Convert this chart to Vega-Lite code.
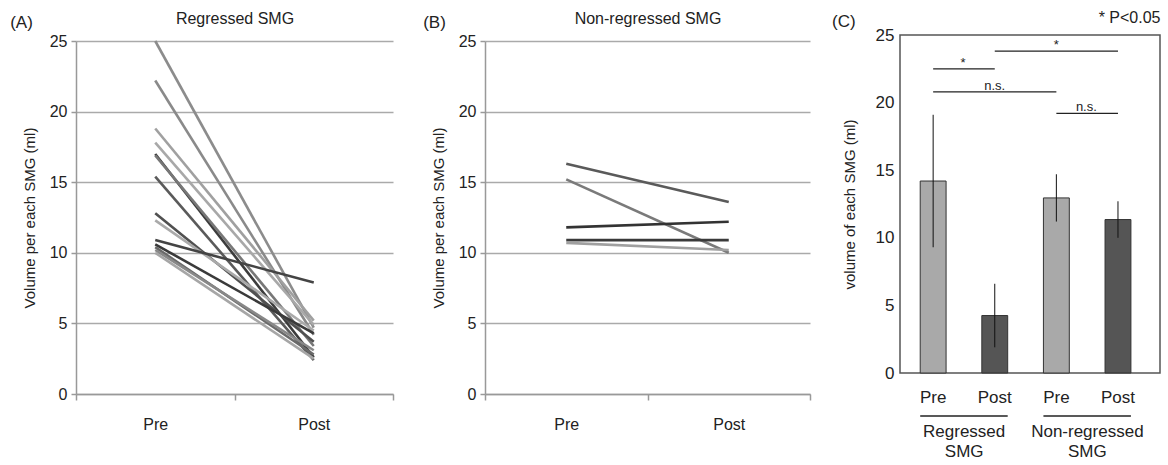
{
  "$schema": "https://vega.github.io/schema/vega-lite/v6.json",
  "background": "white",
  "padding": {"left": 10, "top": 8, "right": 4, "bottom": 0},
  "config": {
    "font": "Liberation Sans",
    "view": {"stroke": null},
    "title": {"fontWeight": "normal", "fontSize": 17, "color": "#222"},
    "axis": {"labelColor": "#222", "titleColor": "#222", "labelFont": "Liberation Sans", "titleFont": "Liberation Sans"}
  },
  "datasets": {
    "A": [
      {"id": "a01", "time": "Pre", "vol": 25.0}, {"id": "a01", "time": "Post", "vol": 4.7},
      {"id": "a02", "time": "Pre", "vol": 22.2}, {"id": "a02", "time": "Post", "vol": 4.2},
      {"id": "a03", "time": "Pre", "vol": 18.8}, {"id": "a03", "time": "Post", "vol": 5.2},
      {"id": "a04", "time": "Pre", "vol": 17.8}, {"id": "a04", "time": "Post", "vol": 4.9},
      {"id": "a05", "time": "Pre", "vol": 17.0}, {"id": "a05", "time": "Post", "vol": 2.6},
      {"id": "a06", "time": "Pre", "vol": 16.9}, {"id": "a06", "time": "Post", "vol": 3.4},
      {"id": "a07", "time": "Pre", "vol": 15.4}, {"id": "a07", "time": "Post", "vol": 2.4},
      {"id": "a08", "time": "Pre", "vol": 12.8}, {"id": "a08", "time": "Post", "vol": 3.7},
      {"id": "a09", "time": "Pre", "vol": 12.3}, {"id": "a09", "time": "Post", "vol": 4.5},
      {"id": "a10", "time": "Pre", "vol": 10.9}, {"id": "a10", "time": "Post", "vol": 7.9},
      {"id": "a11", "time": "Pre", "vol": 10.6}, {"id": "a11", "time": "Post", "vol": 4.3},
      {"id": "a12", "time": "Pre", "vol": 10.4}, {"id": "a12", "time": "Post", "vol": 2.8},
      {"id": "a13", "time": "Pre", "vol": 10.2}, {"id": "a13", "time": "Post", "vol": 3.1},
      {"id": "a14", "time": "Pre", "vol": 10.0}, {"id": "a14", "time": "Post", "vol": 2.5}
    ],
    "B": [
      {"id": "b1", "time": "Pre", "vol": 16.3}, {"id": "b1", "time": "Post", "vol": 13.6},
      {"id": "b2", "time": "Pre", "vol": 15.2}, {"id": "b2", "time": "Post", "vol": 10.0},
      {"id": "b3", "time": "Pre", "vol": 11.8}, {"id": "b3", "time": "Post", "vol": 12.2},
      {"id": "b4", "time": "Pre", "vol": 10.9}, {"id": "b4", "time": "Post", "vol": 10.9},
      {"id": "b5", "time": "Pre", "vol": 10.7}, {"id": "b5", "time": "Post", "vol": 10.2}
    ],
    "C": [
      {"cond": "Regressed|Pre", "phase": "Pre", "mean": 14.2, "lo": 9.3, "hi": 19.1},
      {"cond": "Regressed|Post", "phase": "Post", "mean": 4.25, "lo": 1.9, "hi": 6.6},
      {"cond": "Non-regressed|Pre", "phase": "Pre", "mean": 12.95, "lo": 11.2, "hi": 14.7},
      {"cond": "Non-regressed|Post", "phase": "Post", "mean": 11.35, "lo": 10.0, "hi": 12.7}
    ],
    "sig": [
      {"from": "Regressed|Pre", "to": "Regressed|Post", "h": 22.5, "label": "*", "at": "Regressed|Pre"},
      {"from": "Regressed|Pre", "to": "Non-regressed|Pre", "h": 20.8, "label": "n.s.", "at": "Regressed|Post"},
      {"from": "Regressed|Post", "to": "Non-regressed|Post", "h": 23.8, "label": "*", "at": "Non-regressed|Pre"},
      {"from": "Non-regressed|Pre", "to": "Non-regressed|Post", "h": 19.2, "label": "n.s.", "at": "Non-regressed|Pre"}
    ],
    "groups": [
      {"group": "Regressed\nSMG", "from": "Regressed|Pre", "to": "Regressed|Post"},
      {"group": "Non-regressed\nSMG", "from": "Non-regressed|Pre", "to": "Non-regressed|Post"}
    ]
  },
  "spacing": 20,
  "resolve": {"scale": {"color": "independent"}},
  "hconcat": [
    {
      "spacing": 29,
      "resolve": {"scale": {"color": "independent"}},
      "hconcat": [
        {
          "width": 317, "height": 359,
          "data": {"name": "A"},
          "title": {"text": "(A)", "anchor": "start", "frame": "bounds", "dx": -12, "offset": -22},
          "layer": [
            {
              "mark": {"type": "line", "strokeWidth": 2.6},
              "encoding": {
                "x": {"field": "time", "type": "nominal", "sort": ["Pre", "Post"],
                  "scale": {"type": "band", "paddingInner": 0, "paddingOuter": 0},
                  "axis": {"title": null, "labelAngle": 0, "labelFontSize": 16, "tickBand": "extent", "tickSize": 6, "tickColor": "#999", "tickWidth": 1.5, "domainColor": "#999", "domainWidth": 1.5, "labelPadding": 16, "grid": false}},
                "y": {"field": "vol", "type": "quantitative", "scale": {"domain": [0, 25], "range": [359, 6]},
                  "axis": {"title": "Volume per each SMG (ml)", "titleFontSize": 15, "titleFontWeight": "normal", "titlePadding": 12, "values": [0, 5, 10, 15, 20, 25], "labelFontSize": 16, "labelPadding": 4, "tickSize": 5, "tickColor": "#999", "tickWidth": 1.5, "domainColor": "#999", "domainWidth": 1.5, "gridColor": "#aaa", "gridWidth": 1.5}},
                "color": {"field": "id", "type": "nominal", "legend": null,
                  "scale": {"domain": ["a01","a02","a03","a04","a05","a06","a07","a08","a09","a10","a11","a12","a13","a14"],
                    "range": ["#8c8c8c","#8a8a8a","#a0a0a0","#a8a8a8","#3c3c3c","#777777","#5a5a5a","#505050","#aaaaaa","#444444","#3a3a3a","#6a6a6a","#888888","#a6a6a6"]}}
              }
            },
            {
              "mark": {"type": "rule", "opacity": 0},
              "encoding": {
                "x": {"field": "time", "type": "nominal", "sort": ["Pre", "Post"],
                  "axis": {"orient": "top", "title": "Regressed SMG", "titleFontSize": 16, "titleFontWeight": "normal", "titlePadding": 9, "labels": false, "ticks": false, "domain": false, "grid": false}}
              }
            }
          ],
          "resolve": {"axis": {"x": "independent"}}
        },
        {
          "width": 325, "height": 359,
          "data": {"name": "B"},
          "title": {"text": "(B)", "anchor": "start", "frame": "bounds", "dx": -8, "offset": -22},
          "layer": [
            {
              "mark": {"type": "line", "strokeWidth": 2.6},
              "encoding": {
                "x": {"field": "time", "type": "nominal", "sort": ["Pre", "Post"],
                  "scale": {"type": "band", "paddingInner": 0, "paddingOuter": 0},
                  "axis": {"title": null, "labelAngle": 0, "labelFontSize": 16, "tickBand": "extent", "tickSize": 6, "tickColor": "#999", "tickWidth": 1.5, "domainColor": "#999", "domainWidth": 1.5, "labelPadding": 16, "grid": false}},
                "y": {"field": "vol", "type": "quantitative", "scale": {"domain": [0, 25], "range": [359, 6]},
                  "axis": {"title": "Volume per each SMG (ml)", "titleFontSize": 15, "titleFontWeight": "normal", "titlePadding": 12, "values": [0, 5, 10, 15, 20, 25], "labelFontSize": 16, "labelPadding": 4, "tickSize": 5, "tickColor": "#999", "tickWidth": 1.5, "domainColor": "#999", "domainWidth": 1.5, "gridColor": "#aaa", "gridWidth": 1.5}},
                "color": {"field": "id", "type": "nominal", "legend": null,
                  "scale": {"domain": ["b1","b2","b3","b4","b5"], "range": ["#5a5a5a","#7a7a7a","#333333","#3a3a3a","#a0a0a0"]}}
              }
            },
            {
              "mark": {"type": "rule", "opacity": 0},
              "encoding": {
                "x": {"field": "time", "type": "nominal", "sort": ["Pre", "Post"],
                  "axis": {"orient": "top", "title": "Non-regressed SMG", "titleFontSize": 16, "titleFontWeight": "normal", "titlePadding": 9, "labels": false, "ticks": false, "domain": false, "grid": false}}
              }
            }
          ],
          "resolve": {"axis": {"x": "independent"}}
        }
      ]
    },
    {
      "width": 260, "height": 338,
      "view": {"stroke": "#555", "strokeWidth": 1.5},
      "title": {"text": "(C)", "anchor": "start", "frame": "bounds", "dx": -10, "offset": -22},
      "layer": [
        {
          "data": {"name": "C"},
          "mark": {"type": "bar", "stroke": "#333", "strokeWidth": 1},
          "encoding": {
            "x": {"field": "cond", "type": "nominal", "sort": null,
              "scale": {"type": "band", "domain": ["Regressed|Pre", "Regressed|Post", "Non-regressed|Pre", "Non-regressed|Post"], "paddingInner": 0.58, "paddingOuter": 0.4, "align": 0.41},
              "axis": {"title": null, "labelAngle": 0, "labelFontSize": 17, "labelExpr": "split(datum.value, '|')[1]", "ticks": false, "domain": false, "labelPadding": 16, "grid": false}},
            "y": {"field": "mean", "type": "quantitative", "scale": {"domain": [0, 25], "nice": false, "zero": false},
              "axis": {"title": "volume of each SMG (ml)", "titleFontSize": 15, "titleFontWeight": "normal", "titlePadding": 18, "values": [0, 5, 10, 15, 20, 25], "labelFontSize": 17, "labelPadding": 6, "ticks": false, "domain": false, "grid": false}},
            "color": {"field": "phase", "type": "nominal", "legend": null, "scale": {"domain": ["Pre", "Post"], "range": ["#a9a9a9", "#555555"]}}
          }
        },
        {
          "data": {"name": "C"},
          "mark": {"type": "rule", "color": "#111", "strokeWidth": 1},
          "encoding": {
            "x": {"field": "cond", "type": "nominal", "sort": null, "axis": null},
            "y": {"field": "lo", "type": "quantitative", "scale": {"domain": [0, 25], "nice": false, "zero": false}},
            "y2": {"field": "hi"}
          }
        },
        {
          "data": {"name": "sig"},
          "mark": {"type": "rule", "color": "#222", "strokeWidth": 1.2},
          "encoding": {
            "x": {"field": "from", "type": "nominal", "sort": null, "axis": null},
            "x2": {"field": "to"},
            "y": {"field": "h", "type": "quantitative", "scale": {"domain": [0, 25], "nice": false, "zero": false}}
          }
        },
        {
          "data": {"name": "sig"},
          "transform": [{"filter": "datum.at == datum.from"}],
          "mark": {"type": "text", "baseline": "alphabetic", "dx": 30, "dy": -2, "fontSize": 13, "color": "#222"},
          "encoding": {
            "x": {"field": "at", "type": "nominal", "sort": null, "axis": null},
            "y": {"field": "h", "type": "quantitative", "scale": {"domain": [0, 25], "nice": false, "zero": false}},
            "text": {"field": "label"}
          }
        },
        {
          "data": {"name": "sig"},
          "transform": [{"filter": "datum.at != datum.from"}],
          "mark": {"type": "text", "baseline": "alphabetic", "dy": -2, "fontSize": 13, "color": "#222"},
          "encoding": {
            "x": {"field": "at", "type": "nominal", "sort": null, "axis": null},
            "y": {"field": "h", "type": "quantitative", "scale": {"domain": [0, 25], "nice": false, "zero": false}},
            "text": {"field": "label"}
          }
        },
        {
          "data": {"name": "groups"},
          "mark": {"type": "rule", "color": "#222", "strokeWidth": 1.5},
          "encoding": {
            "x": {"field": "from", "type": "nominal", "bandPosition": 0, "sort": null, "axis": null},
            "x2": {"field": "to", "bandPosition": 1},
            "y": {"datum": -3.18, "type": "quantitative", "scale": {"domain": [0, 25], "nice": false, "zero": false}}
          }
        },
        {
          "data": {"name": "groups"},
          "mark": {"type": "text", "baseline": "top", "dx": 31, "fontSize": 17, "lineBreak": "\n", "lineHeight": 20, "color": "#222"},
          "encoding": {
            "x": {"field": "from", "type": "nominal", "sort": null, "axis": null},
            "y": {"datum": -3.8, "type": "quantitative", "scale": {"domain": [0, 25], "nice": false, "zero": false}},
            "text": {"field": "group"}
          }
        },
        {
          "data": {"name": "C"},
          "mark": {"type": "rule", "opacity": 0},
          "encoding": {
            "x": {"field": "cond", "type": "nominal", "sort": null,
              "axis": {"orient": "top", "title": "* P<0.05", "titleAnchor": "end", "titleFontSize": 16, "titleFontWeight": "normal", "titlePadding": 10, "labels": false, "ticks": false, "domain": false, "grid": false}}
          }
        }
      ],
      "resolve": {"axis": {"x": "independent"}}
    }
  ]
}
